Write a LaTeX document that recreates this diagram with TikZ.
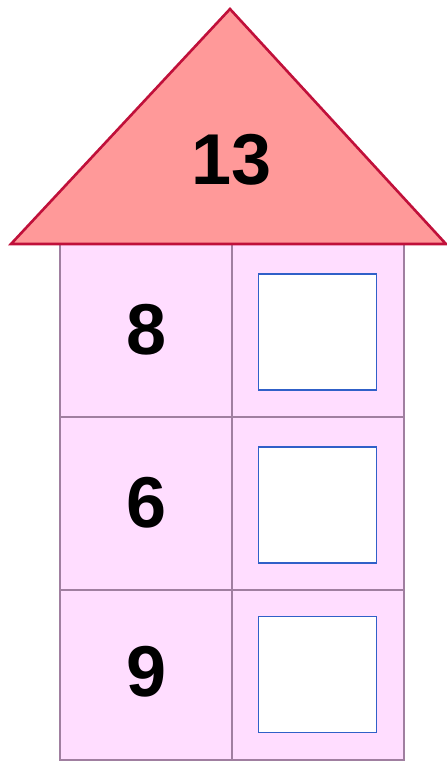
\documentclass[tikz,border=0pt]{standalone}
\usepackage{fontspec}
\setmainfont{Liberation Sans}
\definecolor{roofFill}{HTML}{FF9999}
\definecolor{roofLine}{HTML}{C0103A}
\definecolor{bodyFill}{HTML}{FFDDFF}
\definecolor{bodyLine}{HTML}{A07FA0}
\definecolor{boxLine}{HTML}{3060C8}
\begin{document}
\begin{tikzpicture}[x=1pt,y=-1pt,
  cell/.style={draw=bodyLine,fill=bodyFill,line width=1.6pt,minimum width=172pt,minimum height=173pt,inner sep=0pt,outer sep=0pt},
  answer/.style={draw=boxLine,fill=white,line width=1.4pt,minimum width=118pt,minimum height=116pt,inner sep=0pt},
  num/.style={font=\fontsize{72}{72}\selectfont\bfseries,inner sep=0pt}
]
\useasboundingbox (0,0) rectangle (447,761);
% body cells
\node[cell,anchor=north west] (c11) at (60,244) {};
\node[cell,anchor=north west] (c12) at (232,244) {};
\node[cell,anchor=north west] (c21) at (60,417) {};
\node[cell,anchor=north west] (c22) at (232,417) {};
\node[cell,anchor=north west,minimum height=170pt] (c31) at (60,590) {};
\node[cell,anchor=north west,minimum height=170pt] (c32) at (232,590) {};
\draw[bodyLine,line width=2.6pt] (c11.north west) -- (c31.south west);
\draw[bodyLine,line width=2.6pt] (c12.north east) -- (c32.south east);
% roof
\coordinate (apex) at (230,9);
\coordinate (bl) at (11,244);
\coordinate (br) at (446,244);
\draw[roofLine,fill=roofFill,line width=2.6pt,line join=miter] (apex) -- (br) -- (bl) -- cycle;
\node[num] (n13) at (232,160) {13};
% numbers
\node[num] (n8) at (147,330) {8};
\node[num] (n6) at (147,503) {6};
\node[num] (n9) at (147,672) {9};
% answer boxes
\node[answer] (b1) at (317.5,332) {};
\node[answer] (b2) at (317.5,505) {};
\node[answer] (b3) at (317.5,674.5) {};
\end{tikzpicture}
\end{document}
